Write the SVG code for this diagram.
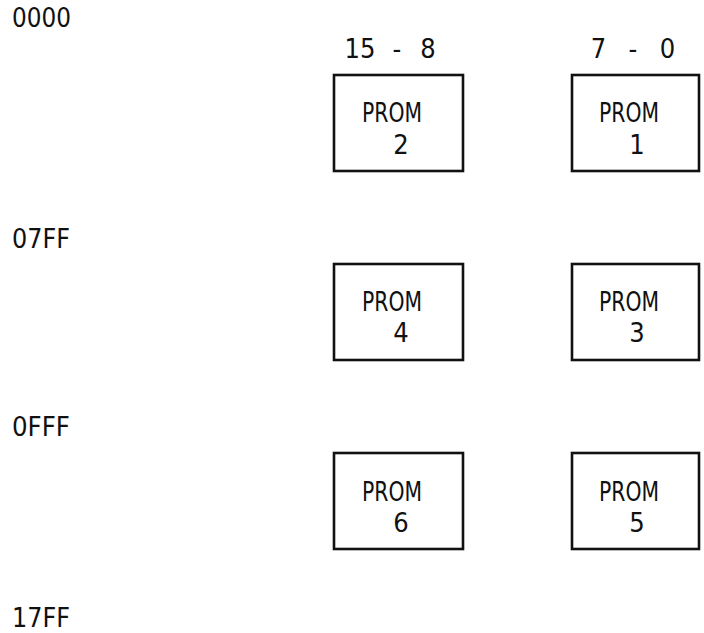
<svg xmlns="http://www.w3.org/2000/svg" width="704" height="633" viewBox="0 0 704 633">
<style>
text{font-family:"DejaVu Sans Condensed","DejaVu Sans","Liberation Sans Narrow",sans-serif;font-size:27px;fill:#111}
.m{text-anchor:middle}
.box{fill:#fff;stroke:#111;stroke-width:2.6}
</style>
<rect width="704" height="633" fill="#fff"/>
<g id="addresses">
<text x="12" y="27" textLength="59" lengthAdjust="spacingAndGlyphs">0000</text>
<text x="12" y="248" textLength="58" lengthAdjust="spacingAndGlyphs">07FF</text>
<text x="12" y="436" textLength="58" lengthAdjust="spacingAndGlyphs">0FFF</text>
<text x="12" y="627" textLength="58" lengthAdjust="spacingAndGlyphs">17FF</text>
</g>
<g id="bits">
<text class="m" x="360" y="58">15</text>
<text class="m" x="397" y="58">-</text>
<text class="m" x="428" y="58">8</text>
<text class="m" x="598.5" y="58">7</text>
<text class="m" x="633" y="58">-</text>
<text class="m" x="667.5" y="58">0</text>
</g>
<g id="prom2"><rect class="box" x="334" y="75" width="129" height="96"/>
<text x="362" y="122" textLength="60" lengthAdjust="spacingAndGlyphs">PROM</text><text class="m" x="401" y="154">2</text></g>
<g id="prom1"><rect class="box" x="572" y="75" width="127" height="96"/>
<text x="599" y="122" textLength="60" lengthAdjust="spacingAndGlyphs">PROM</text><text class="m" x="637" y="154">1</text></g>
<g id="prom4"><rect class="box" x="334" y="264" width="129" height="96"/>
<text x="362" y="311" textLength="60" lengthAdjust="spacingAndGlyphs">PROM</text><text class="m" x="401" y="342">4</text></g>
<g id="prom3"><rect class="box" x="572" y="264" width="127" height="96"/>
<text x="599" y="311" textLength="60" lengthAdjust="spacingAndGlyphs">PROM</text><text class="m" x="637" y="342">3</text></g>
<g id="prom6"><rect class="box" x="334" y="453" width="129" height="96"/>
<text x="362" y="501" textLength="60" lengthAdjust="spacingAndGlyphs">PROM</text><text class="m" x="401" y="532">6</text></g>
<g id="prom5"><rect class="box" x="572" y="453" width="127" height="96"/>
<text x="599" y="501" textLength="60" lengthAdjust="spacingAndGlyphs">PROM</text><text class="m" x="637" y="532">5</text></g>
<g id="connectors"></g>
</svg>
